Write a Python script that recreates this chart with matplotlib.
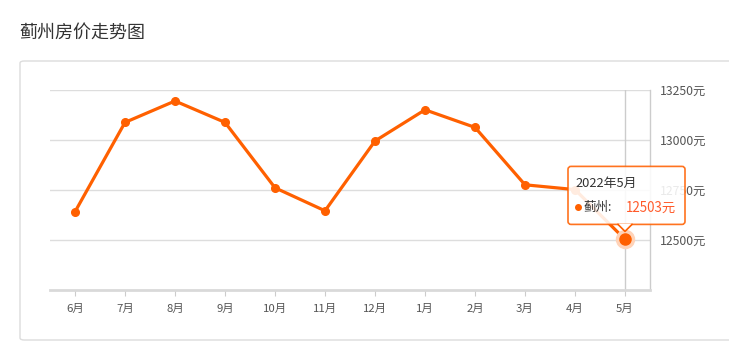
import matplotlib
matplotlib.use("Agg")
import matplotlib.pyplot as plt
import matplotlib.transforms as mtransforms
from matplotlib.patches import FancyBboxPatch, Polygon

plt.rcParams['font.family'] = ['Noto Sans CJK SC', 'DejaVu Sans']

title = "蓟州房价走势图"
months = ["6月", "7月", "8月", "9月", "10月", "11月", "12月", "1月", "2月", "3月", "4月", "5月"]
prices = [12641, 13088, 13195, 13088, 12761, 12646, 12995, 13151, 13063, 12776, 12752, 12503]
yticks = [12500, 12750, 13000, 13250]
series_name = "蓟州"
tip_date = "2022年5月"

W, H = 729, 357
orange = "#ff6000"

fig = plt.figure(figsize=(W / 100, H / 100), dpi=100)

# outer panel box and title (pixel positions -> figure fractions)
def fx(px):
    return px / W

def fy(py):
    return 1 - py / H

fig.patches.append(FancyBboxPatch((fx(20), fy(340)), fx(740) - fx(20), fy(61) - fy(340),
                                  boxstyle="round,pad=0,rounding_size=0.006",
                                  transform=fig.transFigure, fc="white", ec="#dcdcdc", lw=1,
                                  zorder=-1))
fig.text(fx(20), fy(33), title, fontsize=13, color="#333333", va="center", ha="left")

ax = fig.add_axes([fx(50), fy(290), fx(650) - fx(50), fy(90) - fy(290)])
ax.set_facecolor("none")
x = list(range(len(months)))

ax.set_xlim(-0.5, len(months) - 0.5)
ax.set_ylim(12250, 13250)

for v in yticks:
    ax.axhline(v, color="#dddddd", lw=1, zorder=1)

# crosshair at hovered point
ax.axvline(x[-1], color="#cccccc", lw=1, zorder=1)

ax.plot(x, prices, color=orange, lw=2.3, marker="o", markersize=5.5, zorder=3)
ax.plot(x[-1], prices[-1], "o", color="#ffd3b8", markersize=13, zorder=4)
ax.plot(x[-1], prices[-1], "o", color=orange, markersize=8, zorder=5)

for side in ["top", "left"]:
    ax.spines[side].set_visible(False)
ax.spines["right"].set_color("#cccccc")
ax.spines["right"].set_linewidth(1)
ax.spines["bottom"].set_color("#d9d9d9")
ax.spines["bottom"].set_linewidth(2)

ax.set_xticks(x)
ax.set_xticklabels(months)
ax.yaxis.tick_right()
ax.set_yticks(yticks)
ax.set_yticklabels([f"{v}元" for v in yticks])
ax.tick_params(axis="x", length=4, color="#cccccc", labelsize=8.2, labelcolor="#555555", pad=6)
ax.tick_params(axis="y", length=0, labelsize=8.8, labelcolor="#555555", pad=7)

# tooltip, placed in pixel offsets from the hovered point
tip = mtransforms.IdentityTransform() + mtransforms.ScaledTranslation(x[-1], prices[-1], ax.transData)
box = FancyBboxPatch((-57, 15), 117, 58, boxstyle="round,pad=0,rounding_size=3",
                     transform=tip, fc="white", ec=orange, lw=1.2, alpha=0.88,
                     clip_on=False, zorder=10)
ax.add_patch(box)
ax.add_patch(Polygon([(-7, 15.6), (0, 8), (7, 15.6)], closed=True, transform=tip,
                     fc="white", ec="none", clip_on=False, zorder=11))
ax.plot([-7, 0, 7], [15, 8, 15], color=orange, lw=1.2, transform=tip,
        clip_on=False, zorder=11)
ax.text(-50, 56, tip_date, transform=tip, fontsize=9.3, color="#333333",
        va="center", ha="left", zorder=12)
ax.plot([-47], [32], "o", color=orange, markersize=4, transform=tip, clip_on=False, zorder=12)
ax.text(-41, 32, f"{series_name}:", transform=tip, fontsize=9, color="#333333",
        va="center", ha="left", zorder=12)
ax.text(1, 32, f"{prices[-1]}元", transform=tip, fontsize=9.6, color="#ff5a2a",
        va="center", ha="left", zorder=12)

fig.savefig("out.png", dpi=100)
